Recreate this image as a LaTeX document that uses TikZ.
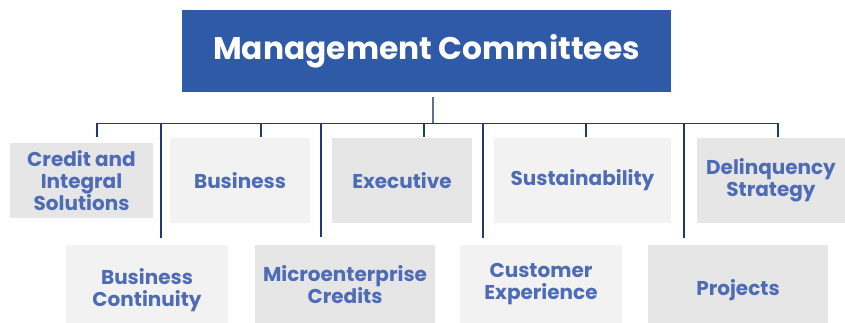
\documentclass[tikz,border=0pt]{standalone}
\usepackage{fontspec}
\setmainfont{Poppins}
\usepackage{xcolor}
\usepackage{tikz}
\usetikzlibrary{positioning}
\definecolor{mcblue}{HTML}{2E5AA7}
\definecolor{txtblue}{HTML}{4E6BB6}
\definecolor{linenavy}{HTML}{1F3A6E}
\definecolor{stemgray}{HTML}{5F6F96}
\definecolor{boxdark}{HTML}{E6E6E6}
\definecolor{boxlight}{HTML}{F2F2F2}
\tikzset{
  head/.style={shape=rectangle, fill=mcblue, text=white, minimum width=489pt, minimum height=82pt, font=\fontsize{31.3}{36}\selectfont\bfseries},
  cbox/.style={shape=rectangle, text=txtblue, align=center, inner sep=0pt, font=\fontsize{20}{22}\selectfont\bfseries},
  link/.style={draw=linenavy, line width=1.2pt},
  stem/.style={draw=stemgray, line width=1.2pt}
}
\begin{document}
\begin{tikzpicture}
\useasboundingbox (0,0) rectangle (845pt,-323pt);
\node[head] (mc) at (426.5pt,-51pt) {Management Committees};
\node[cbox, fill=boxdark, minimum width=143pt, minimum height=75pt, below of=mc, node distance=129.5pt, xshift=-345pt] (cis) {Credit and\\Integral\\Solutions};
\node[cbox, fill=boxlight, minimum width=140pt, minimum height=85pt, below of=mc, node distance=129.5pt, xshift=-186.5pt] (biz) {Business};
\node[cbox, fill=boxdark, minimum width=140pt, minimum height=85pt, below of=mc, node distance=129.5pt, xshift=-24.5pt] (exe) {Executive};
\node[cbox, fill=boxlight, minimum width=177pt, minimum height=85pt, below of=mc, node distance=129.5pt, xshift=156pt] (sus) {Sustainability};
\node[cbox, fill=boxdark, minimum width=148pt, minimum height=85pt, below of=mc, node distance=129.5pt, xshift=344.5pt] (dls) {Delinquency\\Strategy};
\node[cbox, fill=boxlight, minimum width=162pt, minimum height=90pt, below of=mc, node distance=239pt, xshift=-279.5pt] (bc) {Business\\Continuity};
\node[cbox, fill=boxdark, minimum width=180pt, minimum height=80pt, below of=mc, node distance=234pt, xshift=-81.5pt] (mec) {Microenterprise\\Credits};
\node[cbox, fill=boxlight, minimum width=162pt, minimum height=78pt, below of=mc, node distance=233pt, xshift=114.5pt] (cx) {Customer\\Experience};
\node[cbox, fill=boxdark, minimum width=180pt, minimum height=90pt, below of=mc, node distance=239pt, xshift=311.5pt] (prj) {Projects};
\coordinate (bus) at ([xshift=6.5pt, yshift=-31pt] mc.south);
\draw[stem] ([xshift=6.5pt, yshift=-5pt] mc.south) -- (bus);
\draw[link] ([xshift=15.5pt, yshift=6pt] cis.north) |- (bus);
\draw[link] ([xshift=21pt, yshift=1pt] biz.north) |- (bus);
\draw[link] ([xshift=22pt, yshift=1pt] exe.north) |- (bus);
\draw[link] ([xshift=3.5pt, yshift=1pt] sus.north) |- (bus);
\draw[link] ([xshift=7pt, yshift=1pt] dls.north) |- (bus);
\draw[link] ([xshift=14pt, yshift=7pt] bc.north) |- (bus);
\draw[link] ([xshift=-24pt, yshift=8pt] mec.north) |- (bus);
\draw[link] ([xshift=-58pt, yshift=7pt] cx.north) |- (bus);
\draw[link] ([xshift=-54pt, yshift=7pt] prj.north) |- (bus);
\end{tikzpicture}
\end{document}
